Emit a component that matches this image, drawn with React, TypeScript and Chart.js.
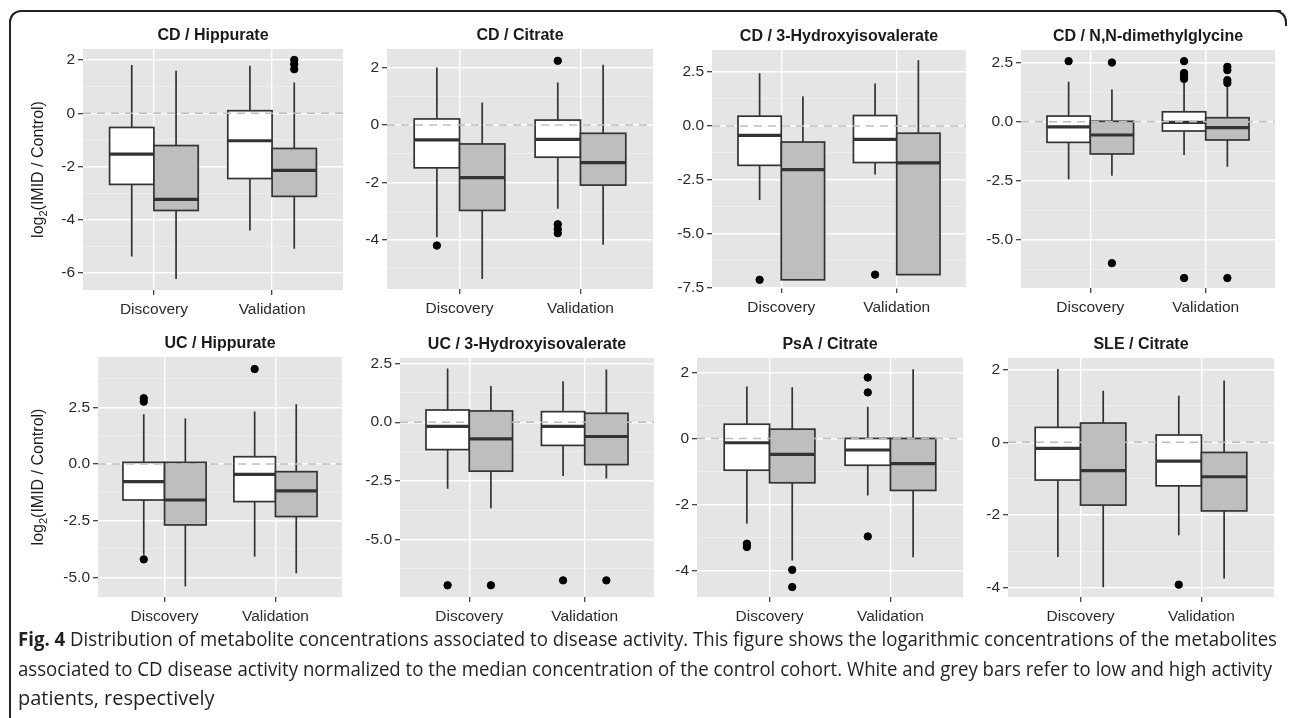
import React, { useEffect, useRef } from 'react';
import { Chart, registerables } from 'chart.js';

Chart.register(...registerables);

// ---------------- DATA ----------------
const categories = ['Discovery', 'Validation'];
const panelTitles = [
  'CD / Hippurate',
  'CD / Citrate',
  'CD / 3-Hydroxyisovalerate',
  'CD / N,N-dimethylglycine',
  'UC / Hippurate',
  'UC / 3-Hydroxyisovalerate',
  'PsA / Citrate',
  'SLE / Citrate',
];

// box stats per category (Discovery, Validation): [lower whisker, Q1, median, Q3, upper whisker]
// "Low" = low activity patients (white), "High" = high activity patients (grey)
const cdHippurateLow = [[-5.38, -2.67, -1.53, -0.53, 1.82], [-4.4, -2.45, -1.03, 0.1, 1.79]];
const cdHippurateHigh = [[-6.23, -3.65, -3.23, -1.21, 1.6], [-5.09, -3.12, -2.14, -1.32, 1.16]];
const cdHippurateLowOutliers = [[], []];
const cdHippurateHighOutliers = [[], [2.01, 1.85, 1.66]];
const cdHippurateTicks = [-6, -4, -2, 0, 2];
const cdHippurateTickLabels = ['-6', '-4', '-2', '0', '2'];
const cdHippurateRange = [-6.64, 2.42];

const cdCitrateLow = [[-3.9, -1.49, -0.52, 0.21, 2.0], [-2.91, -1.12, -0.5, 0.17, 1.48]];
const cdCitrateHigh = [[-5.35, -2.97, -1.83, -0.66, 0.78], [-4.16, -2.09, -1.31, -0.29, 2.09]];
const cdCitrateLowOutliers = [[-4.19], [2.23, -3.45, -3.62, -3.76]];
const cdCitrateHighOutliers = [[], []];
const cdCitrateTicks = [-4, -2, 0, 2];
const cdCitrateTickLabels = ['-4', '-2', '0', '2'];
const cdCitrateRange = [-5.7, 2.64];

const cdHivLow = [[-3.44, -1.83, -0.44, 0.45, 2.44], [-2.25, -1.7, -0.63, 0.48, 1.97]];
const cdHivHigh = [[-7.14, -7.14, -2.03, -0.75, 1.38], [-6.9, -6.9, -1.72, -0.34, 3.05]];
const cdHivLowOutliers = [[-7.14], [-6.9]];
const cdHivHighOutliers = [[], []];
const cdHivTicks = [-7.5, -5, -2.5, 0, 2.5];
const cdHivTickLabels = ['-7.5', '-5.0', '-2.5', '0.0', '2.5'];
const cdHivRange = [-7.52, 3.52];

const cdDmgLow = [[-2.43, -0.87, -0.22, 0.24, 1.69], [-1.4, -0.39, -0.03, 0.42, 1.64]];
const cdDmgHigh = [[-2.28, -1.36, -0.56, 0.02, 1.36], [-1.9, -0.77, -0.25, 0.17, 1.52]];
const cdDmgLowOutliers = [[2.56], [2.56, 2.06, 1.92, 1.81, -6.6]];
const cdDmgHighOutliers = [[2.5, -5.97], [2.32, 2.18, 1.76, 1.64, -6.6]];
const cdDmgTicks = [-5, -2.5, 0, 2.5];
const cdDmgTickLabels = ['-5.0', '-2.5', '0.0', '2.5'];
const cdDmgRange = [-7.02, 3.03];

const ucHippurateLow = [[-4.01, -1.59, -0.78, 0.07, 2.19], [-4.09, -1.66, -0.46, 0.32, 2.31]];
const ucHippurateHigh = [[-5.41, -2.69, -1.59, 0.07, 2.01], [-4.82, -2.32, -1.19, -0.34, 2.63]];
const ucHippurateLowOutliers = [[2.9, 2.75, -4.21], [4.19]];
const ucHippurateHighOutliers = [[], []];
const ucHippurateTicks = [-5, -2.5, 0, 2.5];
const ucHippurateTickLabels = ['-5.0', '-2.5', '0.0', '2.5'];
const ucHippurateRange = [-5.87, 4.72];

const ucHivLow = [[-2.84, -1.17, -0.18, 0.52, 2.29], [-2.3, -0.99, -0.18, 0.45, 1.75]];
const ucHivHigh = [[-3.67, -2.09, -0.71, 0.48, 1.54], [-2.4, -1.81, -0.61, 0.38, 2.25]];
const ucHivLowOutliers = [[-6.96], [-6.75]];
const ucHivHighOutliers = [[-6.96], [-6.75]];
const ucHivTicks = [-5, -2.5, 0, 2.5];
const ucHivTickLabels = ['-5.0', '-2.5', '0.0', '2.5'];
const ucHivRange = [-7.46, 2.74];

const psaCitrateLow = [[-2.58, -0.96, -0.13, 0.43, 1.57], [-1.72, -0.81, -0.35, 0.0, 0.96]];
const psaCitrateHigh = [[-3.69, -1.34, -0.48, 0.28, 1.55], [-3.59, -1.57, -0.76, 0.0, 2.09]];
const psaCitrateLowOutliers = [[-3.18, -3.28], [1.84, 1.39, -2.96]];
const psaCitrateHighOutliers = [[-3.97, -4.49], []];
const psaCitrateTicks = [-4, -2, 0, 2];
const psaCitrateTickLabels = ['-4', '-2', '0', '2'];
const psaCitrateRange = [-4.79, 2.43];

const sleCitrateLow = [[-3.16, -1.04, -0.17, 0.41, 2.02], [-2.56, -1.2, -0.52, 0.2, 1.28]];
const sleCitrateHigh = [[-3.99, -1.73, -0.78, 0.53, 1.42], [-3.75, -1.89, -0.95, -0.28, 1.7]];
const sleCitrateLowOutliers = [[], [-3.92]];
const sleCitrateHighOutliers = [[], []];
const sleCitrateTicks = [-4, -2, 0, 2];
const sleCitrateTickLabels = ['-4', '-2', '0', '2'];
const sleCitrateRange = [-4.26, 2.32];

const captionLines = [
  ' Distribution of metabolite concentrations associated to disease activity. This figure shows the logarithmic concentrations of the metabolites',
  'associated to CD disease activity normalized to the median concentration of the control cohort. White and grey bars refer to low and high activity',
  'patients, respectively',
];
const captionLabel = 'Fig. 4';

// ---------------- LAYOUT / STYLE ----------------
// plot areas in page px: [left, top, right, bottom]
const plotRects = [
  [83, 49, 343, 290],
  [387, 49, 653, 289],
  [712, 50, 966, 288],
  [1021, 50, 1275, 288],
  [98, 357, 342, 597],
  [400, 358, 654, 597],
  [697, 358, 963, 597],
  [1008, 358, 1274, 597],
];
const captionLayout = [
  { x: 18, y: 646, w: 1259 },
  { x: 18, y: 676, w: 1254 },
  { x: 18, y: 705, w: 0 },
];

const FONT = "'Liberation Sans', Arial, Helvetica, sans-serif";
const PANEL_BG = '#E5E5E5';
const EDGE = '#333333';
const HIGH_FILL = '#BEBEBE';
const HALF = 0.1875;

const panels = [
  { low: cdHippurateLow, high: cdHippurateHigh, lowOut: cdHippurateLowOutliers, highOut: cdHippurateHighOutliers, ticks: cdHippurateTicks, labels: cdHippurateTickLabels, range: cdHippurateRange },
  { low: cdCitrateLow, high: cdCitrateHigh, lowOut: cdCitrateLowOutliers, highOut: cdCitrateHighOutliers, ticks: cdCitrateTicks, labels: cdCitrateTickLabels, range: cdCitrateRange },
  { low: cdHivLow, high: cdHivHigh, lowOut: cdHivLowOutliers, highOut: cdHivHighOutliers, ticks: cdHivTicks, labels: cdHivTickLabels, range: cdHivRange },
  { low: cdDmgLow, high: cdDmgHigh, lowOut: cdDmgLowOutliers, highOut: cdDmgHighOutliers, ticks: cdDmgTicks, labels: cdDmgTickLabels, range: cdDmgRange },
  { low: ucHippurateLow, high: ucHippurateHigh, lowOut: ucHippurateLowOutliers, highOut: ucHippurateHighOutliers, ticks: ucHippurateTicks, labels: ucHippurateTickLabels, range: ucHippurateRange },
  { low: ucHivLow, high: ucHivHigh, lowOut: ucHivLowOutliers, highOut: ucHivHighOutliers, ticks: ucHivTicks, labels: ucHivTickLabels, range: ucHivRange },
  { low: psaCitrateLow, high: psaCitrateHigh, lowOut: psaCitrateLowOutliers, highOut: psaCitrateHighOutliers, ticks: psaCitrateTicks, labels: psaCitrateTickLabels, range: psaCitrateRange },
  { low: sleCitrateLow, high: sleCitrateHigh, lowOut: sleCitrateLowOutliers, highOut: sleCitrateHighOutliers, ticks: sleCitrateTicks, labels: sleCitrateTickLabels, range: sleCitrateRange },
].map((p, i) => ({ ...p, title: panelTitles[i], yTitle: i % 4 === 0, rect: plotRects[i] }));

function canvasRect(p: any) {
  const [l, t, r, b] = p.rect;
  const cl = p.yTitle ? 12 : l - 72;
  return { cl, ct: t - 36, cr: r + 6, cb: b + 32 };
}

function buildYTicks(ticks: number[], range: number[]) {
  const step = ticks[1] - ticks[0];
  const all: { value: number; major: boolean }[] = [];
  const first = ticks[0] - step / 2;
  if (first >= range[0]) all.push({ value: first, major: false });
  ticks.forEach((t, i) => {
    all.push({ value: t, major: true });
    const mid = t + step / 2;
    if (i < ticks.length - 1 || mid <= range[1]) all.push({ value: mid, major: false });
  });
  return all;
}

function makePlugin(p: any, cr: any) {
  return {
    id: 'panelDecor',
    beforeDraw(chart: any) {
      const { ctx, chartArea: a } = chart;
      ctx.save();
      ctx.fillStyle = PANEL_BG;
      ctx.fillRect(a.left, a.top, a.right - a.left, a.bottom - a.top);
      ctx.restore();
    },
    beforeDatasetsDraw(chart: any) {
      const xs = chart.scales.x;
      const ys = chart.scales.y;
      const ctx = chart.ctx;
      ctx.save();
      categories.forEach((_, i) => {
        [p.low[i], p.high[i]].forEach((st: number[], g: number) => {
          const c = i + 1 + (g === 0 ? -HALF : HALF);
          const x0 = xs.getPixelForValue(c - HALF);
          const x1 = xs.getPixelForValue(c + HALF);
          const xc = xs.getPixelForValue(c);
          const [wl, q1, md, q3, wh] = st.map((v) => ys.getPixelForValue(v));
          ctx.strokeStyle = EDGE;
          ctx.lineWidth = 1.7;
          ctx.beginPath();
          ctx.moveTo(xc, wl);
          ctx.lineTo(xc, q1);
          ctx.moveTo(xc, q3);
          ctx.lineTo(xc, wh);
          ctx.stroke();
          ctx.fillStyle = g === 0 ? '#FFFFFF' : HIGH_FILL;
          ctx.fillRect(x0, q3, x1 - x0, q1 - q3);
          ctx.strokeRect(x0, q3, x1 - x0, q1 - q3);
          ctx.lineWidth = 3.2;
          ctx.beginPath();
          ctx.moveTo(x0, md);
          ctx.lineTo(x1, md);
          ctx.stroke();
        });
      });
      ctx.restore();
    },
    afterDatasetsDraw(chart: any) {
      const { ctx, chartArea: a } = chart;
      const y0 = chart.scales.y.getPixelForValue(0);
      ctx.save();
      ctx.strokeStyle = '#BEBEBE';
      ctx.lineWidth = 1.5;
      ctx.setLineDash([8, 6]);
      ctx.beginPath();
      ctx.moveTo(a.left, y0);
      ctx.lineTo(a.right, y0);
      ctx.stroke();
      ctx.restore();
    },
    afterDraw(chart: any) {
      const { ctx, chartArea: a } = chart;
      ctx.save();
      ctx.fillStyle = '#1A1A1A';
      ctx.font = `bold 16px ${FONT}`;
      ctx.textAlign = 'center';
      ctx.textBaseline = 'middle';
      ctx.fillText(p.title, (a.left + a.right) / 2, a.top - 13);
      if (p.yTitle) {
        const cx = 39 - cr.cl;
        const cy = (a.top + a.bottom) / 2;
        ctx.translate(cx, cy);
        ctx.rotate(-Math.PI / 2);
        ctx.textAlign = 'left';
        ctx.textBaseline = 'middle';
        const big = `16px ${FONT}`;
        const small = `11px ${FONT}`;
        const parts = ['log', '2', '(IMID / Control)'];
        ctx.font = big;
        const w0 = ctx.measureText(parts[0]).width;
        const w2 = ctx.measureText(parts[2]).width;
        ctx.font = small;
        const w1 = ctx.measureText(parts[1]).width;
        let x = -(w0 + w1 + w2) / 2;
        ctx.fillStyle = '#1A1A1A';
        ctx.font = big;
        ctx.fillText(parts[0], x, 0);
        x += w0;
        ctx.font = small;
        ctx.fillText(parts[1], x, 5);
        x += w1;
        ctx.font = big;
        ctx.fillText(parts[2], x, 0);
      }
      ctx.restore();
    },
  };
}

function Panel({ p }: { p: any }) {
  const ref = useRef<HTMLCanvasElement>(null);
  const cr = canvasRect(p);
  const W = cr.cr - cr.cl;
  const H = cr.cb - cr.ct;
  useEffect(() => {
    if (!ref.current) return;
    const [l, t, r, b] = p.rect;
    const yTicks = buildYTicks(p.ticks, p.range);
    const pts = (out: number[][], g: number) =>
      out.flatMap((vals, i) => vals.map((v) => ({ x: i + 1 + (g === 0 ? -HALF : HALF), y: v })));
    const majorLabel = (v: number) => {
      const idx = p.ticks.findIndex((t: number) => Math.abs(t - v) < 1e-6);
      return idx >= 0 ? p.labels[idx] : '';
    };
    const isMajor = (v: number) => p.ticks.some((t: number) => Math.abs(t - v) < 1e-6);
    const chart = new Chart(ref.current, {
      type: 'scatter',
      data: {
        datasets: [
          { label: 'Low activity outliers', data: pts(p.lowOut, 0), backgroundColor: '#000', borderColor: '#000', pointRadius: 3.7, pointHoverRadius: 3.7 },
          { label: 'High activity outliers', data: pts(p.highOut, 1), backgroundColor: '#000', borderColor: '#000', pointRadius: 3.7, pointHoverRadius: 3.7 },
        ],
      },
      options: {
        animation: false,
        responsive: false,
        maintainAspectRatio: false,
        events: [],
        layout: { padding: { top: t - cr.ct, right: cr.cr - r, left: 0, bottom: 0 } },
        plugins: { legend: { display: false }, tooltip: { enabled: false }, title: { display: false } },
        scales: {
          x: {
            type: 'linear',
            min: 0.4,
            max: 2.6,
            afterBuildTicks: (s: any) => {
              s.ticks = categories.map((_, i) => ({ value: i + 1 }));
            },
            afterFit: (s: any) => {
              s.height = cr.cb - b;
            },
            ticks: {
              autoSkip: false,
              maxRotation: 0,
              padding: 5,
              color: '#2B2B2B',
              font: { family: FONT, size: 15.5 },
              callback: (v: any) => categories[Math.round(v) - 1] ?? '',
            },
            grid: { color: '#FFFFFF', lineWidth: 1.4, tickColor: EDGE, tickLength: 5, tickWidth: 1.2 },
            border: { display: false },
          },
          y: {
            type: 'linear',
            min: p.range[0],
            max: p.range[1],
            afterBuildTicks: (s: any) => {
              s.ticks = yTicks.map((t) => ({ value: t.value }));
            },
            afterFit: (s: any) => {
              s.width = l - cr.cl;
            },
            ticks: {
              autoSkip: false,
              padding: 3,
              color: '#2B2B2B',
              font: { family: FONT, size: 15.5 },
              callback: (v: any) => majorLabel(Number(v)),
            },
            grid: {
              color: (c: any) => (isMajor(c.tick.value) ? '#FFFFFF' : '#F2F2F2'),
              lineWidth: (c: any) => (isMajor(c.tick.value) ? 1.4 : 0.7),
              tickColor: (c: any) => (isMajor(c.tick.value) ? EDGE : 'rgba(0,0,0,0)'),
              tickLength: 5,
              tickWidth: 1.2,
            },
            border: { display: false },
          },
        },
      },
      plugins: [makePlugin(p, cr)],
    } as any);
    return () => chart.destroy();
  }, [p]);
  return (
    <canvas
      ref={ref}
      width={W}
      height={H}
      style={{ position: 'absolute', left: cr.cl, top: cr.ct, width: W, height: H }}
    />
  );
}

export default function App() {
  return (
    <div style={{ position: 'absolute', left: 0, top: 0, width: 1290, height: 718, overflow: 'hidden', background: '#FFFFFF' }}>
      <div
        style={{
          position: 'absolute',
          left: 9,
          top: 10,
          width: 1270,
          height: 800,
          borderTop: '2px solid #222',
          borderLeft: '2px solid #222',
          borderTopLeftRadius: 12,
        }}
      />
      <div
        style={{
          position: 'absolute',
          left: 1272,
          top: 10,
          width: 13,
          height: 14,
          borderTop: '2px solid #222',
          borderRight: '2px solid #222',
          borderTopRightRadius: 12,
        }}
      />
      {panels.map((p, i) => (
        <Panel key={i} p={p} />
      ))}
      <svg style={{ position: 'absolute', left: 0, top: 0 }} width={1290} height={718}>
        {captionLines.map((line, i) => (
          <text
            key={i}
            x={captionLayout[i].x}
            y={captionLayout[i].y}
            {...(captionLayout[i].w > 0 ? { textLength: captionLayout[i].w, lengthAdjust: 'spacingAndGlyphs' } : {})}
            fontFamily="'Open Sans', 'Noto Sans', sans-serif"
            fontSize={20}
            fill="#231F20"
          >
            {i === 0 ? <tspan fontWeight="bold">{captionLabel}</tspan> : null}
            {line}
          </text>
        ))}
      </svg>
    </div>
  );
}
